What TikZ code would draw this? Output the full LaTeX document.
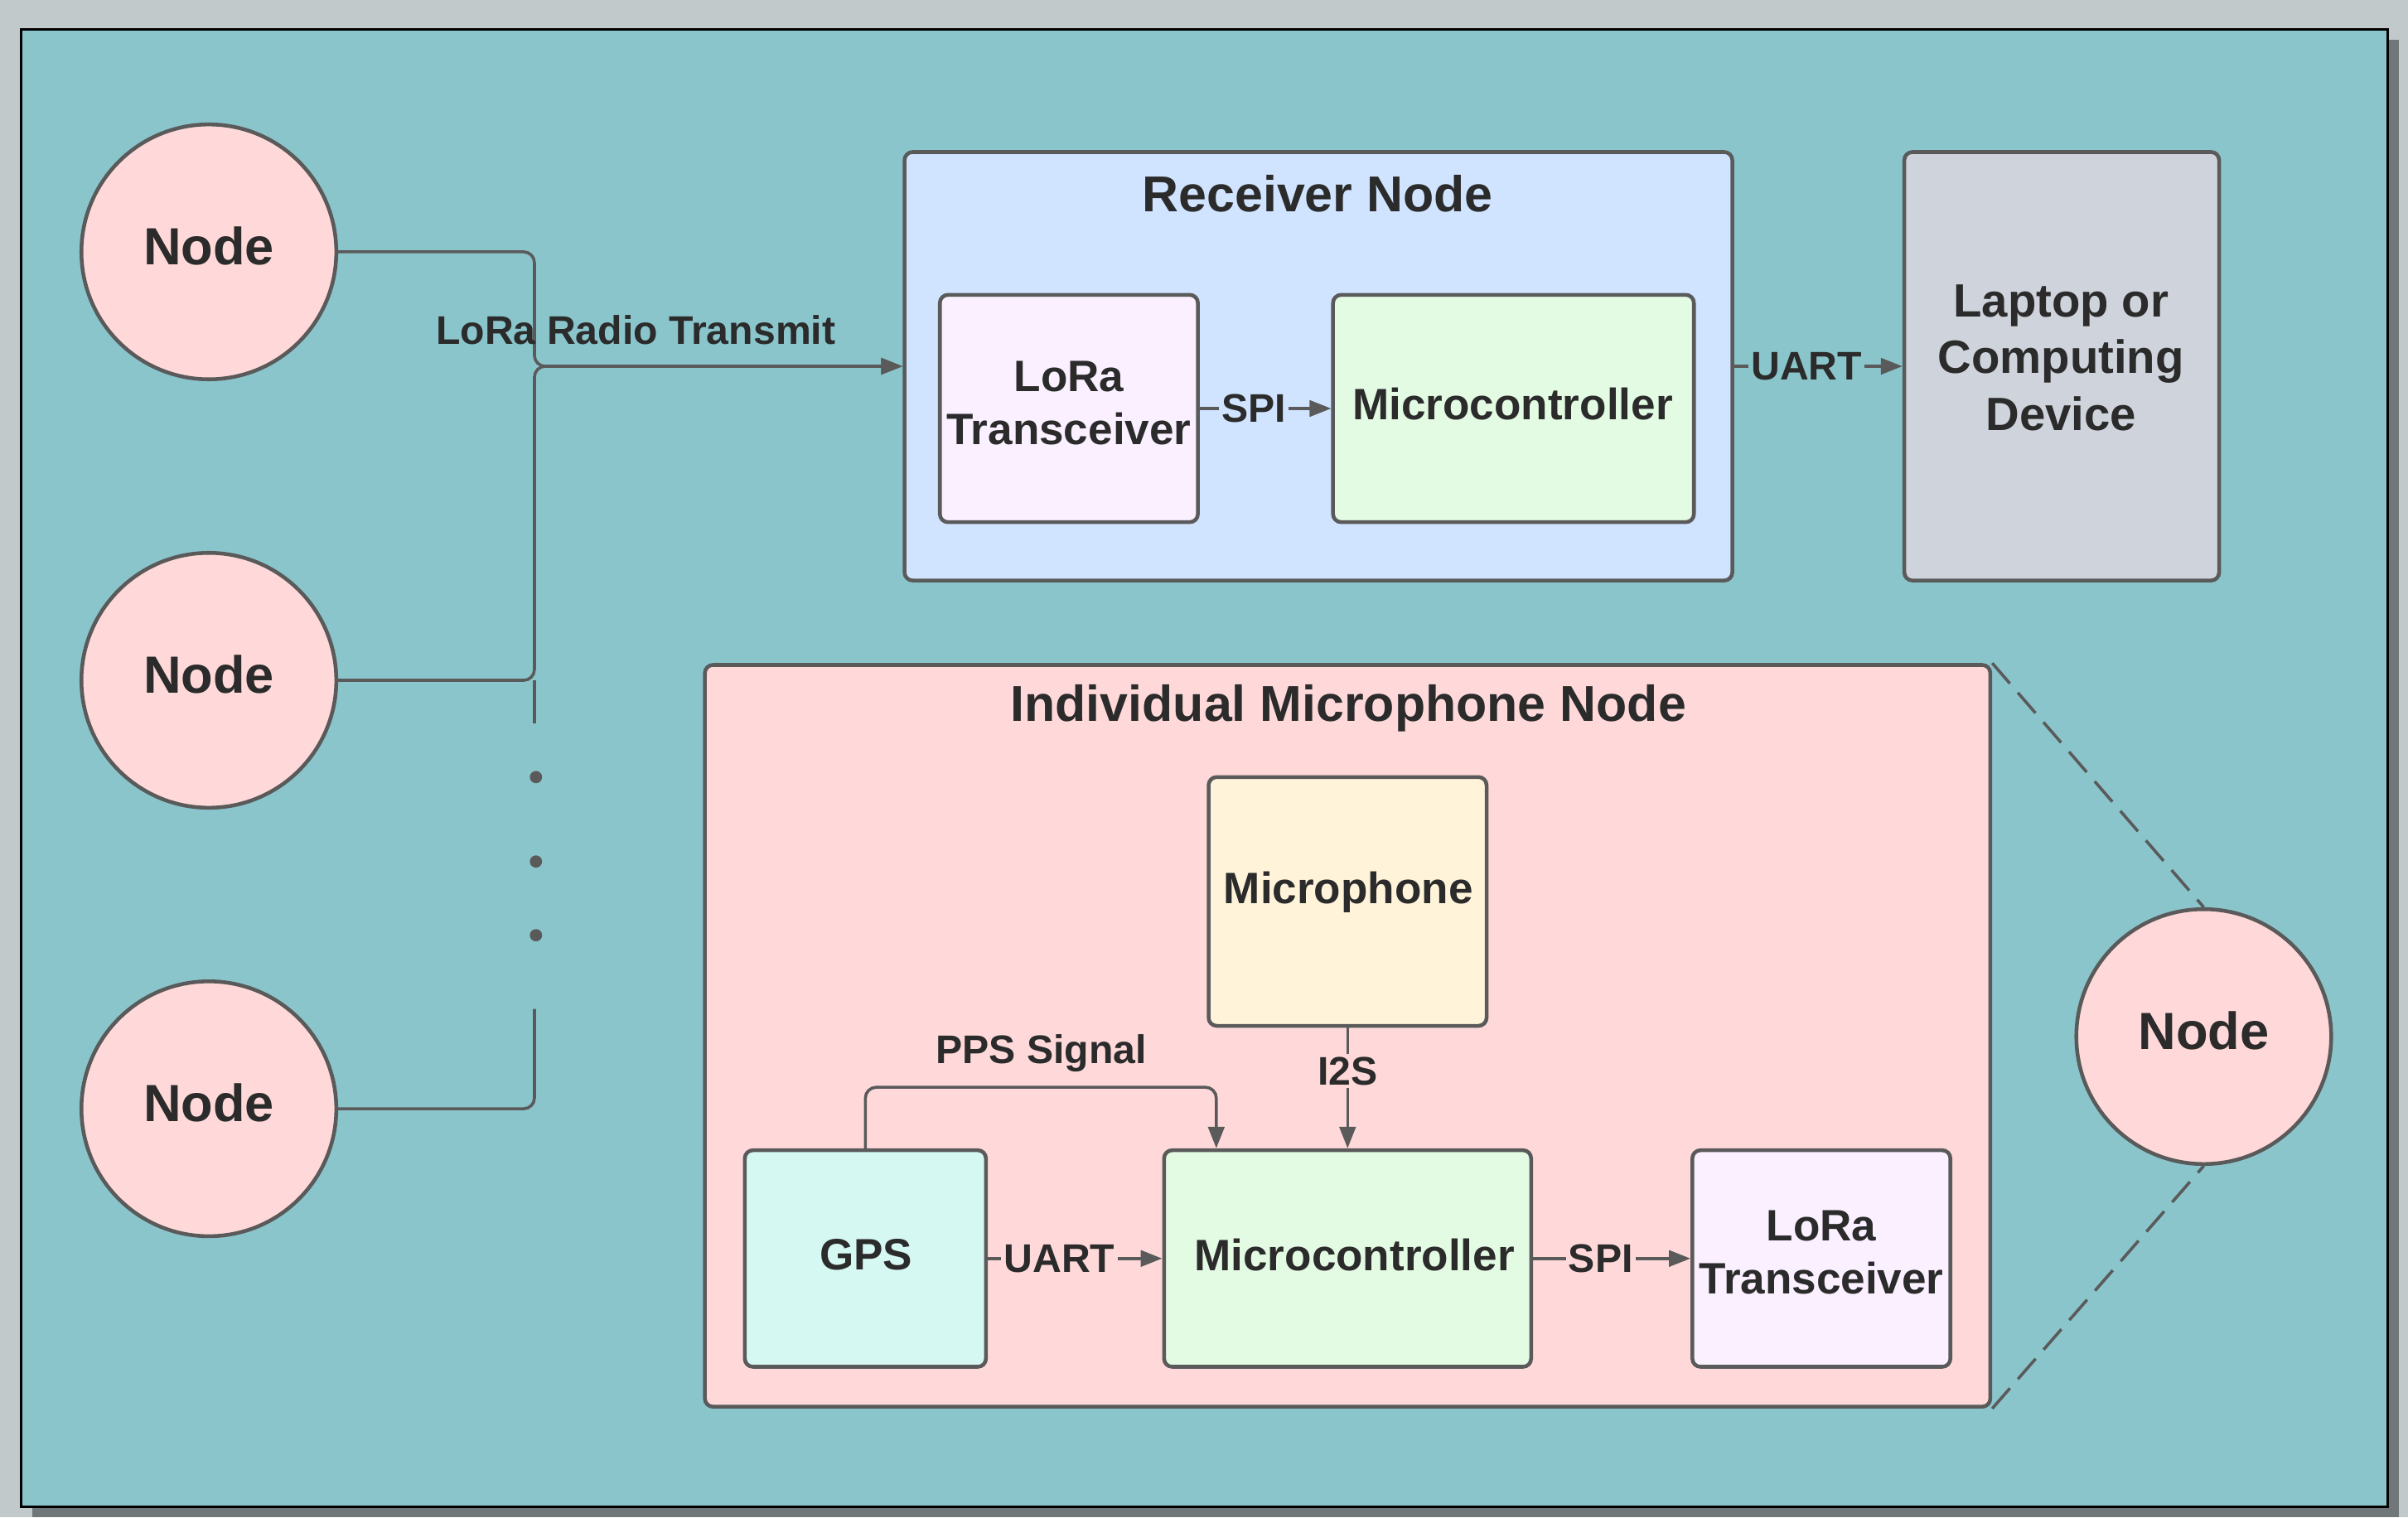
\documentclass[tikz,border=0pt]{standalone}
\usepackage{fontspec}
\setmainfont{Liberation Sans}
\usetikzlibrary{arrows.meta,fit}
\definecolor{outerbg}{HTML}{C1C9CB}
\definecolor{shadowc}{HTML}{6F7779}
\definecolor{tealbg}{HTML}{8AC5CC}
\definecolor{pinkc}{HTML}{FFD9D9}
\definecolor{rxblue}{HTML}{D0E4FF}
\definecolor{lavc}{HTML}{FAF0FF}
\definecolor{greenc}{HTML}{E3FAE3}
\definecolor{micc}{HTML}{FFF3D9}
\definecolor{gpsc}{HTML}{D5F8F3}
\definecolor{laptopc}{HTML}{CFD4DC}
\definecolor{linec}{HTML}{5A5A5A}
\definecolor{textc}{HTML}{2B2B2B}
\begin{document}
\begin{tikzpicture}[x=0.02cm,y=-0.02cm,
  box/.style={draw=linec, line width=1.4pt, rounded corners=3pt, inner sep=0pt},
  boxtext/.style={text=textc, align=center, inner sep=0pt, font=\bfseries\fontsize{16.3}{19.9}\selectfont},
  nodecirc/.style={circle, draw=linec, line width=1.4pt, fill=pinkc, minimum size=3.32cm, inner sep=0pt, text=textc, text depth=4.6pt, font=\bfseries\fontsize{19.4}{23}\selectfont},
  conn/.style={draw=linec, line width=1.1pt},
  arr/.style={conn, -{Triangle[length=8pt,width=6pt]}},
  lbl/.style={text=textc, font=\bfseries\fontsize{14.8}{17}\selectfont, inner sep=1pt},
  titletext/.style={text=textc, font=\bfseries\fontsize{18.7}{22}\selectfont},
  dotc/.style={fill=linec, draw=none},
  dashline/.style={conn, dash pattern=on 10pt off 4.5pt},
]
\useasboundingbox (0,0) rectangle (1568,988);
% frame
\fill[outerbg] (0,0) rectangle (1568,988);
\fill[shadowc] (21,26) rectangle (1562,988);
\draw[black, line width=0.9pt, fill=tealbg] (14,19) rectangle (1555,981);

% node circles
\node[nodecirc] (n1) at (136,164) {Node};
\node[nodecirc] (n2) at (136,443) {Node};
\node[nodecirc] (n3) at (136,722) {Node};
\node[nodecirc] (n4) at (1435,675) {Node};

% receiver node
\node[box, fill=rxblue, fit={(589,99) (1128,378)}] (rx) {};
\node[titletext] (rxtitle) at (858,126) {Receiver Node};
\node[box, fill=lavc, fit={(612,192) (780,340)}] (rxlora) {};
\node[boxtext] (rxloraT) at (696,262.5) {LoRa\\Transceiver};
\node[box, fill=greenc, fit={(868,192) (1103,340)}] (rxmcu) {};
\node[boxtext] (rxmcuT) at (985,263) {Microcontroller};
\node[box, fill=laptopc, fit={(1240,99) (1445,378)}] (laptop) {};
\node[boxtext, font=\bfseries\fontsize{17.3}{21}\selectfont] (laptopT) at (1342,233) {Laptop or\\Computing\\Device};

\draw[arr] (rxlora.east) -- node[lbl, fill=rxblue, pos=0.41] {SPI} (rxmcu.west);
\draw[arr] (rx.east) -- node[lbl, fill=tealbg, pos=0.43] {UART} (laptop.west);

% bus
\coordinate (bus) at (348,238.5);
\coordinate (gapA) at (348,471);
\coordinate (gapB) at (348,657);
\draw[arr, rounded corners=4pt] (n1.east) -| (bus) -- (rx.west);
\draw[arr, rounded corners=4pt] (n2.east) -| (bus) -- (rx.west);
\draw[conn] (n2.east -| bus) -- (gapA);
\draw[conn, rounded corners=4pt] (n3.east) -| (gapB);
\node[lbl] (lora) at (414,215) {LoRa Radio Transmit};
\fill[dotc] (349,506) circle (4);
\fill[dotc] (349,561) circle (4);
\fill[dotc] (349,609) circle (4);

% microphone node
\node[box, fill=pinkc, fit={(459,433) (1296,916)}] (mn) {};
\node[titletext] (mntitle) at (878,461) {Individual Microphone Node};
\node[box, fill=micc, fit={(787,506) (968,668)}] (mph) {};
\node[boxtext] (mphT) at (878,581) {Microphone};
\node[box, fill=gpsc, fit={(485,749) (642,890)}] (gps) {};
\node[boxtext] (gpsT) at (564,817) {GPS};
\node[box, fill=greenc, fit={(758,749) (997,890)}] (mmcu) {};
\node[boxtext] (mmcuT) at (882,817) {Microcontroller};
\node[box, fill=lavc, fit={(1102,749) (1270,890)}] (mlora) {};
\node[boxtext] (mloraT) at (1186,815.5) {LoRa\\Transceiver};

\draw[arr] (gps.east) -- node[lbl, fill=pinkc, pos=0.41] {UART} (mmcu.west);
\draw[arr] (mmcu.east) -- node[lbl, fill=pinkc, pos=0.43] {SPI} (mlora.west);
\draw[arr] (mph.south) -- node[lbl, fill=pinkc, pos=0.36] {I2S} (mmcu.north);
\coordinate (pps) at (792,708);
\draw[arr, rounded corners=4pt] (gps.north) |- (pps) -- (pps |- mmcu.north);
\node[lbl] (ppslbl) at (678,686) {PPS Signal};

% zoom lines
\draw[dashline] (mn.north east) -- (n4.north);
\draw[dashline] (mn.south east) -- (n4.south);
\end{tikzpicture}
\end{document}
